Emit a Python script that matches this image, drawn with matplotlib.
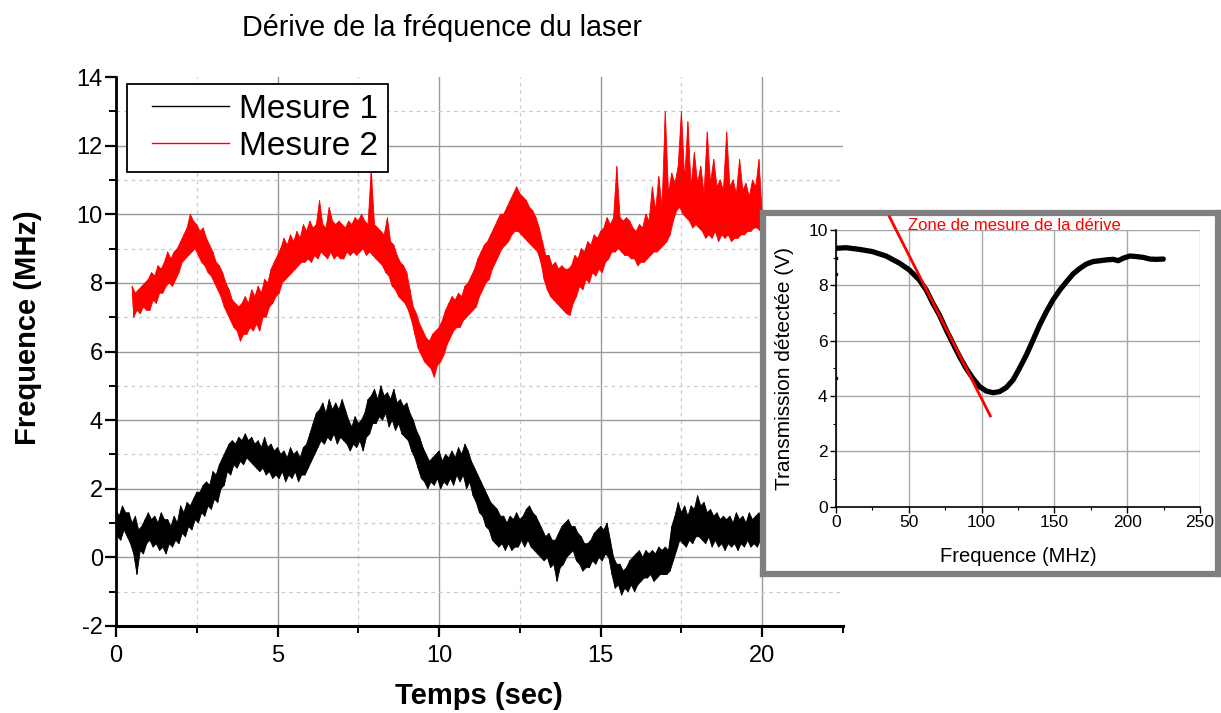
import matplotlib
matplotlib.use('Agg')
import matplotlib.pyplot as plt
import numpy as np
from matplotlib.ticker import MultipleLocator
from matplotlib.legend_handler import HandlerLine2D

plt.rcParams['font.family'] = ['Liberation Sans', 'DejaVu Sans']
plt.rcParams['axes.unicode_minus'] = False

# ---------------- data ----------------
# Each series is listed as successive local extrema of the noisy signal,
# alternating maximum / minimum, one value every DT seconds.
DT = 0.05

mesure1_t0 = 0.0
mesure1 = [
    1.4, 0.6, 1.2, 0.5, 1.5, 0.8, 1.3, 0.6, 1.3, 0.4, 1.0, 0.1, 1.2, -0.5, 0.8, 0.2, 0.9, 0.1, 1.1, 0.4,
    1.3, 0.5, 1.1, 0.3, 1.2, 0.4, 1.0, 0.2, 1.3, 0.3, 1.1, 0.1, 1.1, 0.4, 0.9, 0.3, 1.2, 0.5, 1.0, 0.4,
    1.5, 0.7, 1.3, 0.6, 1.6, 0.9, 1.5, 0.8, 1.7, 1.1, 1.9, 1.0, 1.9, 1.3, 2.1, 1.2, 2.2, 1.5, 2.1, 1.4,
    2.5, 1.7, 2.4, 1.6, 2.7, 2.0, 2.9, 2.1, 3.1, 2.5, 3.3, 2.4, 3.4, 2.7, 3.3, 2.6, 3.5, 2.8, 3.4, 2.7,
    3.6, 2.9, 3.4, 2.8, 3.5, 2.7, 3.3, 2.6, 3.4, 2.5, 3.2, 2.6, 3.5, 2.4, 3.2, 2.5, 3.3, 2.3, 3.1, 2.4,
    3.2, 2.3, 3.0, 2.5, 3.1, 2.2, 2.9, 2.4, 3.2, 2.3, 3.0, 2.5, 3.1, 2.2, 2.9, 2.4, 3.2, 2.4, 3.3, 2.6,
    3.6, 2.8, 3.9, 3.0, 4.2, 3.2, 4.3, 3.4, 4.5, 3.3, 4.2, 3.5, 4.6, 3.4, 4.3, 3.6, 4.5, 3.3, 4.3, 3.5,
    4.6, 3.4, 4.3, 3.3, 4.0, 3.1, 3.8, 3.3, 4.1, 3.2, 3.9, 3.4, 4.0, 3.1, 4.2, 3.5, 4.6, 3.6, 4.7, 3.9,
    4.9, 3.9, 4.6, 4.1, 5.0, 4.0, 4.7, 4.2, 4.8, 3.8, 4.6, 4.0, 4.9, 3.7, 4.5, 3.9, 4.6, 3.6, 4.4, 3.5,
    4.5, 3.4, 4.2, 3.1, 4.0, 2.9, 3.7, 2.6, 3.5, 2.3, 3.2, 2.2, 3.0, 2.0, 2.8, 2.2, 2.9, 2.1, 3.0, 2.3,
    3.1, 2.0, 2.8, 2.2, 3.0, 2.1, 2.9, 2.3, 3.1, 2.1, 2.9, 2.4, 3.2, 2.2, 3.0, 2.4, 3.3, 2.0, 3.1, 2.2,
    2.8, 1.8, 2.6, 1.6, 2.4, 1.3, 2.2, 1.2, 2.0, 0.9, 1.8, 0.8, 1.6, 0.5, 1.5, 0.4, 1.4, 0.3, 1.2, 0.4,
    1.2, 0.2, 1.0, 0.4, 1.2, 0.2, 1.1, 0.3, 1.3, 0.3, 1.1, 0.5, 1.2, 0.3, 1.4, 0.5, 1.5, 0.3, 1.3, 0.2,
    1.2, 0.1, 1.0, 0.0, 0.8, -0.1, 0.6, 0.0, 0.7, -0.3, 0.5, -0.2, 0.5, -0.7, 0.7, -0.3, 0.9, -0.2, 1.0, 0.0,
    1.1, 0.1, 0.9, 0.2, 0.9, -0.1, 0.7, -0.2, 0.6, -0.4, 0.4, -0.3, 0.4, -0.3, 0.5, -0.1, 0.7, -0.2, 0.8, 0.0,
    0.9, -0.1, 0.8, 0.1, 1.0, 0.0, 0.5, -0.5, 0.0, -0.9, -0.2, -0.8, -0.2, -1.1, -0.4, -0.9, -0.3, -1.0, -0.1, -0.8,
    0.0, -1.0, 0.1, -0.8, 0.2, -0.7, 0.0, -0.6, 0.2, -0.6, 0.1, -0.5, 0.2, -0.7, 0.1, -0.6, 0.3, -0.5, 0.2, -0.5,
    0.3, -0.5, 0.2, -0.4, 0.9, -0.1, 1.2, 0.2, 1.6, 0.5, 1.3, 0.4, 1.5, 0.3, 1.2, 0.5, 1.5, 0.4, 1.4, 0.6,
    1.8, 0.6, 1.5, 0.5, 1.6, 0.4, 1.3, 0.6, 1.4, 0.3, 1.2, 0.5, 1.3, 0.3, 1.1, 0.4, 1.2, 0.2, 1.1, 0.4,
    1.2, 0.3, 1.0, 0.4, 1.3, 0.2, 1.1, 0.4, 1.2, 0.3, 1.0, 0.5, 1.3, 0.3, 1.1, 0.4, 1.2, 0.3, 1.3, 0.5,
    1.0,
]

mesure2_t0 = 0.5
mesure2 = [
    7.9, 7.0, 7.7, 7.2, 7.8, 7.1, 7.9, 7.3, 8.0, 7.2,
    8.1, 7.2, 8.3, 7.5, 8.2, 7.4, 8.5, 7.7, 8.4, 7.7, 8.6, 7.9, 8.9, 8.0, 8.7, 7.9, 8.9, 8.1, 9.0, 8.3,
    9.2, 8.6, 9.4, 8.7, 9.6, 8.8, 10.0, 8.9, 9.8, 9.0, 9.7, 8.8, 9.5, 8.6, 9.6, 8.5, 9.3, 8.3, 9.1, 8.2,
    8.9, 8.0, 8.6, 7.8, 8.5, 7.6, 8.3, 7.3, 8.0, 7.1, 7.8, 6.9, 7.5, 6.7, 7.4, 6.6, 7.3, 6.3, 7.4, 6.5,
    7.6, 6.5, 7.4, 6.7, 7.8, 6.6, 7.6, 6.8, 7.9, 6.6, 7.7, 7.0, 8.1, 7.0, 8.0, 7.3, 8.4, 7.4, 8.6, 7.6,
    8.8, 7.7, 9.0, 8.0, 9.3, 8.1, 9.1, 8.2, 9.4, 8.3, 9.2, 8.4, 9.5, 8.5, 9.3, 8.6, 9.7, 8.6, 9.5, 8.7,
    9.8, 8.6, 9.6, 8.8, 9.7, 8.7, 10.4, 8.9, 9.7, 8.8, 9.6, 8.7, 10.2, 8.9, 9.8, 8.7, 9.7, 8.8, 9.8, 8.7,
    9.7, 8.7, 9.6, 8.9, 9.8, 8.8, 9.7, 8.9, 9.9, 8.8, 9.8, 8.9, 10.0, 9.0, 9.8, 8.8, 9.7, 8.9, 11.3, 8.8,
    9.7, 8.7, 9.6, 8.6, 9.5, 8.5, 9.4, 8.3, 9.9, 8.2, 9.2, 7.9, 9.1, 7.8, 8.8, 7.6, 8.6, 7.5, 8.5, 7.4,
    8.3, 7.2, 7.8, 6.9, 7.3, 6.5, 7.1, 6.1, 6.8, 5.9, 6.6, 5.7, 6.4, 5.6, 6.3, 5.5, 6.5, 5.25, 6.6, 5.6,
    6.7, 5.7, 6.9, 5.9, 7.2, 6.2, 7.4, 6.4, 7.6, 6.6, 7.5, 6.7, 7.7, 6.7, 7.6, 6.9, 7.9, 7.0, 8.0, 7.1,
    8.2, 7.2, 8.4, 7.3, 8.7, 7.6, 8.9, 7.8, 9.1, 8.0, 9.2, 8.1, 9.4, 8.4, 9.6, 8.6, 9.8, 8.8, 10.0, 9.0,
    10.0, 9.1, 10.2, 9.2, 10.4, 9.4, 10.6, 9.5, 10.8, 9.5, 10.6, 9.4, 10.5, 9.3, 10.4, 9.2, 10.2, 9.1, 10.1, 9.0,
    9.9, 8.9, 9.6, 8.6, 9.2, 8.1, 8.8, 7.8, 8.8, 7.6, 8.5, 7.5, 8.6, 7.4, 8.4, 7.3, 8.5, 7.2, 8.4, 7.1,
    8.4, 7.05, 8.5, 7.4, 8.8, 7.6, 8.7, 7.9, 9.0, 7.8, 8.9, 8.1, 9.2, 8.0, 9.1, 8.3, 9.4, 8.2, 9.3, 8.4,
    9.5, 8.3, 9.6, 8.6, 9.9, 8.7, 9.7, 8.9, 9.9, 8.9, 11.4, 9.0, 9.9, 8.9, 9.8, 8.8, 9.9, 8.8, 9.8, 8.7,
    9.6, 8.7, 9.5, 8.5, 9.7, 8.6, 9.6, 8.6, 10.0, 8.7, 9.8, 8.8, 10.8, 8.9, 10.1, 8.9, 11.1, 9.0, 10.2, 9.1,
    13.0, 9.2, 10.6, 9.4, 11.2, 9.8, 10.9, 10.1, 11.4, 10.2, 13.0, 10.0, 11.0, 9.9, 12.7, 9.8, 10.8, 9.6, 11.8, 9.7,
    10.9, 9.6, 11.4, 9.5, 10.6, 9.3, 12.4, 9.4, 10.9, 9.3, 11.6, 9.5, 10.8, 9.2, 11.0, 9.4, 10.7, 9.3, 12.4, 9.4,
    10.8, 9.2, 11.0, 9.3, 10.6, 9.3, 11.6, 9.4, 10.7, 9.4, 10.9, 9.5, 10.5, 9.5, 11.0, 9.6, 10.8, 9.6, 11.6, 9.5,
    10.0,
]

# inset: transmission curve
freq_mhz = [0.5, 6.9, 16, 25, 34.4, 43.6, 50.5, 57.3, 62, 66.5, 71, 75.7, 80.3,
            84.9, 89.4, 94, 98.6, 103.2, 107.8, 112.4, 117, 121.6, 126, 130.7,
            135.3, 139.9, 144.5, 149, 153.7, 158.3, 162.8, 167.4, 172, 176.6,
            181.2, 185.8, 190.4, 193.8, 197.2, 201.8, 206.4, 211, 215.6, 220.2,
            224.8]
transmission = [9.34, 9.36, 9.3, 9.22, 9.06, 8.8, 8.55, 8.19, 7.83, 7.35, 6.93,
                6.39, 5.9, 5.42, 5.0, 4.64, 4.34, 4.18, 4.12, 4.16, 4.31, 4.58,
                5.0, 5.48, 6.02, 6.57, 7.05, 7.47, 7.83, 8.13, 8.41, 8.61, 8.77,
                8.86, 8.89, 8.92, 8.94, 8.89, 8.98, 9.06, 9.04, 9.01, 8.95, 8.94,
                8.95]
# isolated points at the very start of the sweep
start_freq = [0.3, 0.3, 0.3]
start_trans = [4.65, 8.4, 9.0]
# linear fit (zone de mesure de la derive)
fit_freq = [36.7, 106.0]
fit_trans = [10.48, 3.28]

labels = ['Mesure 1', 'Mesure 2']
colors = ['black', 'red']

# ---------------- figure ----------------
W, H = 1221, 713
fig = plt.figure(figsize=(W / 100, H / 100), dpi=100)


def fx(px):
    return px / W


def fy(py):
    return 1 - py / H


ax = fig.add_axes([fx(116), fy(626), fx(843) - fx(116), fy(77) - fy(626)])


def draw_series(a, t0, vals, color, label):
    v = np.asarray(vals, dtype=float)
    t = t0 + DT * np.arange(len(v))
    th, vh = t[0::2], v[0::2]
    tl, vl = t[1::2], v[1::2]
    xs = np.concatenate([th, tl[::-1]])
    ys = np.concatenate([vh, vl[::-1]])
    a.fill(xs, ys, facecolor=color, edgecolor=color, lw=0.6, zorder=3)
    a.plot(t, v, color=color, lw=0.6, label=label, zorder=3)


draw_series(ax, mesure1_t0, mesure1, colors[0], labels[0])
draw_series(ax, mesure2_t0, mesure2, colors[1], labels[1])

ax.set_xlim(0, 22.5)
ax.set_ylim(-2, 14)
ax.set_xticks([0, 5, 10, 15, 20])
ax.set_xticks([2.5, 7.5, 12.5, 17.5, 22.5], minor=True)
ax.set_yticks(list(range(-2, 15, 2)))
ax.set_yticks(list(range(-1, 14, 2)), minor=True)
ax.grid(True, which='major', color='#9a9a9a', lw=1.0, ls='-', zorder=0)
ax.grid(True, which='minor', color='#cccccc', lw=0.9, ls=(0, (3, 3)), zorder=0)
ax.set_axisbelow(True)
# no grid line along the top and right ends of the axes
ax.yaxis.get_major_ticks()[-1].gridline.set_visible(False)
ax.xaxis.get_minor_ticks()[-1].gridline.set_visible(False)
for s in ['top', 'right']:
    ax.spines[s].set_visible(False)
ax.spines['left'].set_linewidth(2.0)
ax.spines['bottom'].set_linewidth(2.2)
ax.tick_params(which='major', direction='out', length=8, width=1.6, labelsize=17, pad=1.5)
ax.tick_params(which='minor', direction='out', length=5, width=1.4)
ax.tick_params(axis='x', which='major', pad=6)

leg = ax.legend(loc='upper left', bbox_to_anchor=(fx(127), fy(84)),
                bbox_transform=fig.transFigure, borderaxespad=0, fontsize=24,
                frameon=True, fancybox=False, edgecolor='black', framealpha=1,
                handlelength=2.75, handletextpad=0.3, borderpad=0.3,
                labelspacing=0.18,
                handler_map={plt.Line2D: HandlerLine2D(xpad=0.45)})
leg.get_frame().set_linewidth(1.3)
for line in leg.get_lines():
    line.set_linewidth(1.0)

fig.text(fx(442), fy(28), 'Dérive de la fréquence du laser', fontsize=20.7,
         ha='center', va='center')
fig.text(fx(28), fy(328), 'Frequence (MHz)', fontsize=21, fontweight='bold',
         rotation=90, ha='center', va='center')
fig.text(fx(479), fy(696), 'Temps (sec)', fontsize=21, fontweight='bold',
         ha='center', va='center')

# gray frame around the inset
frame = fig.add_axes([fx(763), fy(574), fx(1218) - fx(763), fy(213) - fy(574)], zorder=5)
frame.set_facecolor('white')
frame.set_xticks([])
frame.set_yticks([])
for s in frame.spines.values():
    s.set_color('#808080')
    s.set_linewidth(4.5)

# inset axes
ax2 = fig.add_axes([fx(836), fy(506.7), fx(1200) - fx(836), fy(230) - fy(506.7)], zorder=6)
ax2.set_facecolor('none')
ax2.plot(freq_mhz, transmission, color='black', lw=3.8, solid_capstyle='round', zorder=3)
ax2.plot(start_freq, start_trans, ls='none', marker='s', ms=2, color='black', zorder=3)
ax2.plot(fit_freq, fit_trans, color='red', lw=2.0, clip_on=False, zorder=4)
ax2.text(49.3, 10.18, 'Zone de mesure de la dérive', color='red', fontsize=12,
         ha='left', va='center', clip_on=False)
ax2.set_xlim(0, 250)
ax2.set_ylim(0, 10)
ax2.xaxis.set_major_locator(MultipleLocator(50))
ax2.xaxis.set_minor_locator(MultipleLocator(25))
ax2.yaxis.set_major_locator(MultipleLocator(2))
ax2.yaxis.set_minor_locator(MultipleLocator(1))
ax2.grid(True, which='major', color='#a8a8a8', lw=1.0, zorder=0)
ax2.set_axisbelow(True)
for s in ['top', 'right']:
    ax2.spines[s].set_visible(False)
ax2.spines['left'].set_linewidth(1.2)
ax2.spines['bottom'].set_linewidth(1.2)
ax2.tick_params(which='major', direction='out', length=4, width=1.0, labelsize=12.5, pad=2)
ax2.tick_params(which='minor', direction='out', length=2.5, width=0.8)
ax2.set_xlabel('Frequence (MHz)', fontsize=14.5, labelpad=12)
ax2.set_ylabel('Transmission détectée (V)', fontsize=15, labelpad=10)

fig.savefig('out.png', dpi=100)
